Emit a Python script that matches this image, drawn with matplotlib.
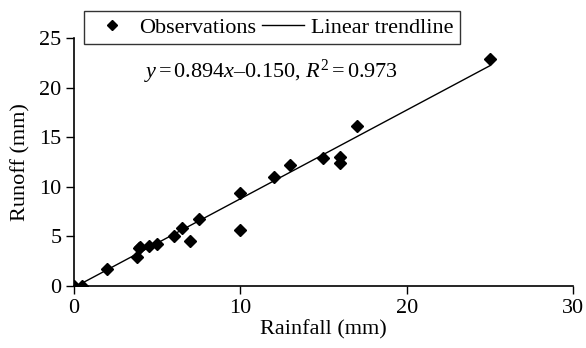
import numpy as np
import matplotlib
matplotlib.use("Agg")
import matplotlib.pyplot as plt

plt.rcParams['font.family'] = ['Liberation Serif', 'DejaVu Serif']
plt.rcParams['mathtext.fontset'] = 'custom'
plt.rcParams['mathtext.rm'] = 'Liberation Serif'
plt.rcParams['mathtext.it'] = 'Liberation Serif:italic'

# observations
rainfall = [0, 0.5, 2, 3.8, 3.9, 4.0, 4.5, 5.0, 6.0, 6.5, 7.0, 7.5, 10, 10, 12, 13, 15, 16, 16, 17, 25]
runoff = [0, 0, 1.75, 2.9, 3.8, 3.9, 4.0, 4.2, 5.0, 5.8, 4.5, 6.8, 9.4, 5.6, 11.0, 12.2, 12.9, 13.0, 12.4, 16.1, 22.9]

slope = 0.894
intercept = -0.150
trend_x = [0, 25]

fs = 16

fig = plt.figure(figsize=(5.86, 3.48), dpi=100)
ax = fig.add_axes([0.126, 0.178, 0.852, 0.713])

obs, = ax.plot(rainfall, runoff, 'D', color='black', markersize=6.5, label='Observations')
tx = np.array(trend_x)
trend, = ax.plot(tx, slope * tx + intercept, color='black', linewidth=1, label='Linear trendline')

ax.set_xlim(0, 30)
ax.set_ylim(0, 25)
ax.set_xticks([0, 10, 20, 30])
ax.set_yticks([0, 5, 10, 15, 20, 25])
ax.spines['top'].set_visible(False)
ax.spines['right'].set_visible(False)
ax.spines['left'].set_linewidth(1.2)
ax.spines['bottom'].set_linewidth(1.2)
ax.tick_params(direction='out', length=6, width=1, labelsize=fs, colors='black', pad=3)
ax.set_xlabel('Rainfall (mm)', fontsize=fs, labelpad=2)
ax.set_ylabel('Runoff (mm)', fontsize=fs, labelpad=6)

eq = r'$y\,$=$\,$0.894$x$–0.150, $R^2\,$=$\,$0.973'
ax.text(11.85, 21.6, eq, fontsize=fs, ha='center', va='center')

leg = fig.legend(handles=[obs, trend], loc='center', bbox_to_anchor=(0.464, 0.921), ncol=2,
                 fontsize=fs, frameon=True, fancybox=False, edgecolor='black', handlelength=1.9,
                 handletextpad=0.3, columnspacing=0.25, borderpad=0.3, borderaxespad=0,
                 markerscale=0.75)
leg.get_frame().set_linewidth(1)

fig.savefig('out.png', dpi=100)
